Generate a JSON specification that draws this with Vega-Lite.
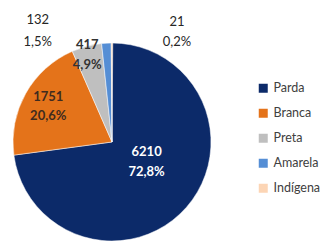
{
  "$schema": "https://vega.github.io/schema/vega-lite/v6.json",
  "width": 224,
  "height": 220,
  "autosize": {"type": "none"},
  "padding": {"left": 0, "top": 32, "right": 102, "bottom": 0},
  "background": "white",
  "config": {"view": {"stroke": null}, "font": "Lato"},
  "data": {"values": [
    {"categoria": "Parda", "valor": 6210, "rotulo": "6210\n72,8%"},
    {"categoria": "Branca", "valor": 1751, "rotulo": "1751\n20,6%"},
    {"categoria": "Preta", "valor": 417, "rotulo": "417\n4,9%"},
    {"categoria": "Amarela", "valor": 132, "rotulo": "132\n1,5%"},
    {"categoria": "Indígena", "valor": 21, "rotulo": "21\n0,2%"}
  ]},
  "transform": [
    {"window": [{"op": "sum", "field": "valor", "as": "fim"}], "frame": [null, 0]},
    {"calculate": "datum.fim - datum.valor", "as": "inicio"},
    {"calculate": "(datum.inicio + datum.fim) / 2", "as": "meio"}
  ],
  "layer": [
    {
      "mark": {"type": "arc", "outerRadius": 99, "stroke": "white", "strokeWidth": 0.5},
      "encoding": {
        "theta": {"field": "inicio", "type": "quantitative", "stack": null},
        "theta2": {"field": "fim"},
        "color": {
          "field": "categoria",
          "type": "nominal",
          "scale": {
            "domain": ["Parda", "Branca", "Preta", "Amarela", "Indígena"],
            "range": ["#0c2a69", "#e4731a", "#bfbfbf", "#558ed5", "#fcd5b5"]
          },
          "legend": {
            "orient": "none",
            "legendX": 257,
            "legendY": 50,
            "title": null,
            "symbolType": "square",
            "symbolSize": 81,
            "symbolStrokeWidth": 0,
            "labelFontSize": 12.5,
            "labelColor": "#404040",
            "labelFont": "Lato",
            "labelOffset": 4,
            "rowPadding": 12
          }
        }
      }
    },
    {
      "transform": [{"filter": "datum.categoria === 'Parda'"}],
      "mark": {"type": "text", "radius": 42, "dx": 3, "dy": -18, "fontSize": 13, "fontWeight": "bold", "color": "white", "lineBreak": "\n", "lineHeight": 20},
      "encoding": {
        "theta": {"field": "meio", "type": "quantitative", "stack": null},
        "text": {"field": "rotulo"}
      }
    },
    {
      "transform": [{"filter": "datum.categoria === 'Branca'"}],
      "mark": {"type": "text", "radius": 72, "dx": -1, "dy": -10, "fontSize": 13, "fontWeight": "bold", "color": "#3f2b1f", "lineBreak": "\n", "lineHeight": 19},
      "encoding": {
        "theta": {"field": "meio", "type": "quantitative", "stack": null},
        "text": {"field": "rotulo"}
      }
    },
    {
      "transform": [{"filter": "datum.categoria === 'Preta'"}],
      "mark": {"type": "text", "radius": 89, "dx": -2, "dy": -11, "fontSize": 13, "fontWeight": "bold", "color": "#333333", "lineBreak": "\n", "lineHeight": 20},
      "encoding": {
        "theta": {"field": "meio", "type": "quantitative", "stack": null},
        "text": {"field": "rotulo"}
      }
    },
    {
      "transform": [{"filter": "datum.categoria === 'Amarela'"}],
      "mark": {"type": "text", "radius": 110, "dx": -68, "dy": -12, "fontSize": 13, "color": "#262626", "lineBreak": "\n", "lineHeight": 22},
      "encoding": {
        "theta": {"field": "meio", "type": "quantitative", "stack": null},
        "text": {"field": "rotulo"}
      }
    },
    {
      "transform": [{"filter": "datum.categoria === 'Indígena'"}],
      "mark": {"type": "text", "radius": 110, "dx": 65, "dy": -10, "fontSize": 13, "color": "#262626", "lineBreak": "\n", "lineHeight": 20},
      "encoding": {
        "theta": {"field": "meio", "type": "quantitative", "stack": null},
        "text": {"field": "rotulo"}
      }
    }
  ]
}
